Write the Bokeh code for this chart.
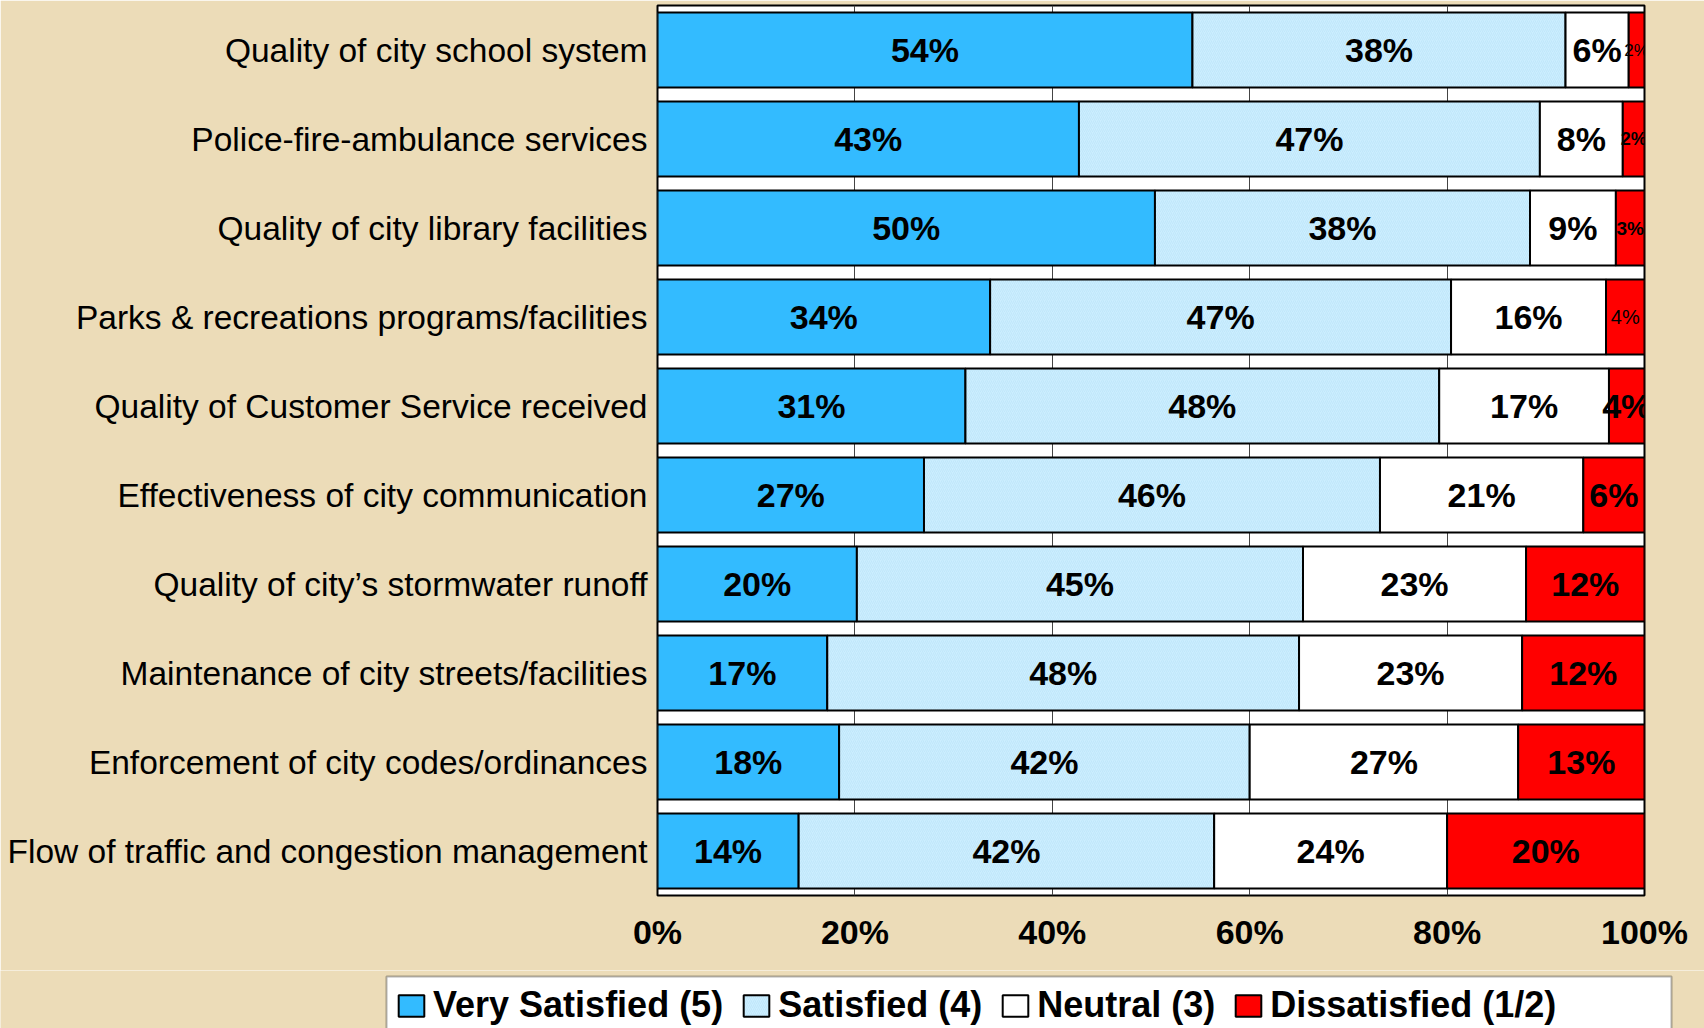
from bokeh.plotting import figure
from bokeh.models import (ColumnDataSource, Legend, LegendItem, FixedTicker,
                          PrintfTickFormatter, FactorRange, Range1d, BoxAnnotation)
from bokeh.core.properties import value
from bokeh.embed import file_html
from bokeh.resources import INLINE

# ---------------- data (top to bottom) ----------------
categories = [
    "Quality of city school system",
    "Police-fire-ambulance services",
    "Quality of city library facilities",
    "Parks & recreations programs/facilities",
    "Quality of Customer Service received",
    "Effectiveness of city communication",
    "Quality of city\u2019s stormwater runoff",
    "Maintenance of city streets/facilities",
    "Enforcement of city codes/ordinances",
    "Flow of traffic and congestion management",
]
very_satisfied = [54.2, 42.7, 50.4, 33.7, 31.2, 27.0, 20.2, 17.2, 18.4, 14.3]
satisfied      = [37.8, 46.7, 38.0, 46.7, 48.0, 46.2, 45.2, 47.8, 41.6, 42.1]
neutral        = [6.4, 8.4, 8.7, 15.7, 17.2, 20.6, 22.6, 22.6, 27.2, 23.6]
dissatisfied   = [1.6, 2.2, 2.9, 3.9, 3.6, 6.2, 12.0, 12.4, 12.8, 20.0]
series_names = ["Very Satisfied (5)", "Satisfied (4)", "Neutral (3)", "Dissatisfied (1/2)"]
x_ticks = [0, 20, 40, 60, 80, 100]

# ---------------- style ----------------
FONT = "Liberation Sans"
BG = "#ECDCB8"
colors = ["#33BBFF", "#CCEEFF", "#FFFFFF", "#FF0000"]
dis_label_size = ["17px", "18px", "19px", "20px", "34px", "34px", "34px", "34px", "34px", "34px"]
dis_label_style = ["normal", "bold", "bold", "normal", "bold", "bold", "bold", "bold", "bold", "bold"]

W = 1704
H1, H2 = 970, 58

src = ColumnDataSource(dict(cat=categories, vs=very_satisfied, s=satisfied,
                            n=neutral, d=dissatisfied))


def style_satisfied(r):
    r.glyph.hatch_pattern = "right_diagonal_line"
    r.glyph.hatch_color = "#B9E2F7"
    r.glyph.hatch_scale = 4
    r.glyph.hatch_weight = 0.6


p = figure(width=W, height=H1,
           y_range=FactorRange(*categories[::-1], range_padding=0),
           x_range=Range1d(0, 100),
           output_backend="svg", toolbar_location=None,
           min_border_left=657, min_border_right=60,
           min_border_top=5, min_border_bottom=75)

rs = p.hbar_stack(["vs", "s", "n", "d"], y="cat", height=0.84, color=colors,
                  line_color="black", line_width=2, source=src)
style_satisfied(rs[1])

# ---------- segment labels ----------
series = [very_satisfied, satisfied, neutral, dissatisfied]
big_x, big_y, big_t = [], [], []
for i, cat in enumerate(categories):
    left = 0.0
    for k, vals in enumerate(series):
        v = vals[i]
        if k < 3:
            big_x.append(left + v / 2)
            big_y.append(cat)
            big_t.append(f"{round(v)}%")
        left += v

p.text(x=big_x, y=big_y, text=big_t, text_align="center", text_baseline="middle",
       text_font=value(FONT), text_font_style="bold", text_font_size="34px",
       text_color="black")

for i, cat in enumerate(categories):
    left = very_satisfied[i] + satisfied[i] + neutral[i]
    p.text(x=[left + dissatisfied[i] / 2], y=[cat], text=[f"{round(dissatisfied[i])}%"],
           text_align="center", text_baseline="middle",
           text_font=value(FONT), text_font_style=dis_label_style[i],
           text_font_size=dis_label_size[i], text_color="black")

# ---------- axes / frame ----------
p.background_fill_color = "white"
p.border_fill_color = BG
p.outline_line_color = "black"
p.outline_line_width = 2

p.xgrid.ticker = FixedTicker(ticks=x_ticks)
p.xgrid.grid_line_color = "#444444"
p.xgrid.grid_line_width = 1
p.ygrid.grid_line_color = None

p.xaxis.ticker = FixedTicker(ticks=x_ticks)
p.xaxis.formatter = PrintfTickFormatter(format="%d%%")
p.xaxis.axis_line_color = None
p.xaxis.major_tick_line_color = None
p.xaxis.minor_tick_line_color = None
p.xaxis.major_tick_out = 0
p.xaxis.major_label_standoff = 17
p.xaxis.major_label_text_font = FONT
p.xaxis.major_label_text_font_size = "34px"
p.xaxis.major_label_text_font_style = "bold"
p.xaxis.major_label_text_color = "black"

p.yaxis.axis_line_color = None
p.yaxis.major_tick_line_color = None
p.yaxis.major_tick_out = 0
p.yaxis.major_label_standoff = 10
p.yaxis.major_label_text_font = FONT
p.yaxis.major_label_text_font_size = "33.5px"
p.yaxis.major_label_text_color = "black"

# ---------- legend strip (separate root, full-width frame) ----------
lg = figure(width=W, height=H2, output_backend="svg", toolbar_location=None,
            x_axis_type=None, y_axis_type=None,
            y_range=FactorRange(*categories[::-1]), x_range=Range1d(0, 100),
            min_border_left=0, min_border_right=0, min_border_top=0, min_border_bottom=0)
lg.background_fill_color = BG
lg.border_fill_color = BG
lg.outline_line_color = None
lg.xgrid.grid_line_color = None
lg.ygrid.grid_line_color = None

lrs = lg.hbar_stack(["vs", "s", "n", "d"], y="cat", height=0.84, color=colors,
                    line_color="black", line_width=2, source=src)
style_satisfied(lrs[1])
for r in lrs:
    r.visible = False

# legend frame (wider than its items, as in the original)
lg.add_layout(BoxAnnotation(left=386, right=1671, top=6, bottom=H2 + 20,
                            left_units="canvas", right_units="canvas",
                            top_units="canvas", bottom_units="canvas",
                            fill_color="white", fill_alpha=1.0,
                            line_color="black", line_width=2))

legend = Legend(items=[LegendItem(label=n, renderers=[r]) for n, r in zip(series_names, lrs)],
                orientation="horizontal", location=(395, 2),
                glyph_width=32, glyph_height=27, label_standoff=6, spacing=17,
                padding=7, margin=0,
                label_text_font=FONT, label_text_font_size="36px",
                label_text_font_style="bold", label_text_color="black",
                border_line_color=None, background_fill_alpha=0.0,
                inactive_fill_alpha=0.0, click_policy="none")
lg.add_layout(legend, "center")

open("out.html", "w").write(file_html([p, lg], INLINE))
